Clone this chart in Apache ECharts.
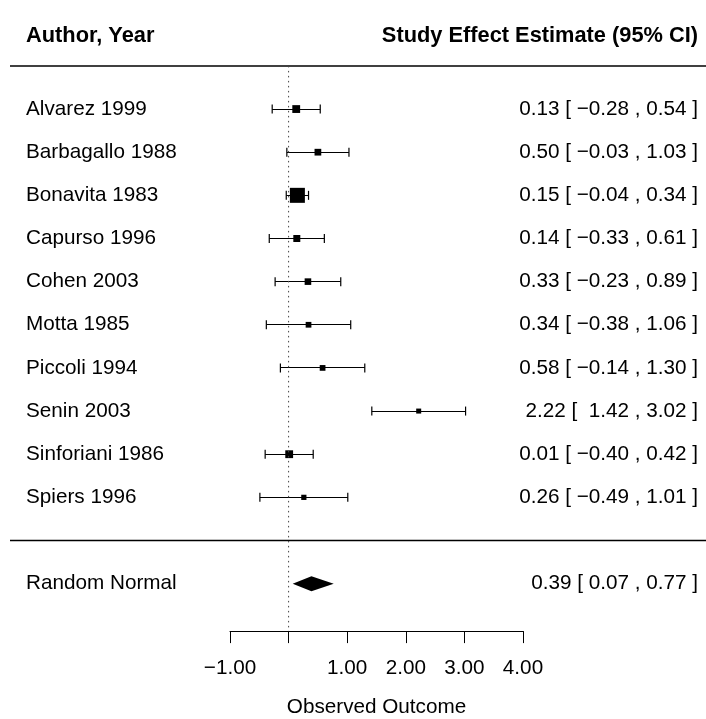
<!DOCTYPE html>
<html>
<head>
<meta charset="utf-8">
<script src="https://cdn.jsdelivr.net/npm/echarts@6/dist/echarts.min.js"></script>
<style>
  html, body { margin: 0; padding: 0; background: #fff; }
  #main { width: 706px; height: 719px; }
</style>
</head>
<body>
<div id="main"></div>
<script>
// Individual studies (top to bottom)
const studies = [
  'Alvarez 1999', 'Barbagallo 1988', 'Bonavita 1983', 'Capurso 1996', 'Cohen 2003',
  'Motta 1985', 'Piccoli 1994', 'Senin 2003', 'Sinforiani 1986', 'Spiers 1996'
];
const estimates = [0.13, 0.50, 0.15, 0.14, 0.33, 0.34, 0.58, 2.22, 0.01, 0.26];
const ciLower   = [-0.28, -0.03, -0.04, -0.33, -0.23, -0.38, -0.14, 1.42, -0.40, -0.49];
const ciUpper   = [0.54, 1.03, 0.34, 0.61, 0.89, 1.06, 1.30, 3.02, 0.42, 1.01];
// Relative study weights (%), used to scale the square markers
const weights   = [12.2, 8.9, 33.8, 9.7, 8.5, 5.9, 5.9, 3.7, 12.2, 4.4];

// Pooled (random-effects) summary
const pooledLabel = 'Random Normal';
const pooledEstimate = 0.39;
const pooledLower = 0.07;
const pooledUpper = 0.77;

// Axis ticks
const xTicks = [-1, 0, 1, 2, 3, 4];
const xTickLabels = ['\u22121.00', '', '1.00', '2.00', '3.00', '4.00'];

const headerLeft = 'Author, Year';
const headerRight = 'Study Effect Estimate (95% CI)';
const axisTitle = 'Observed Outcome';

// ---- layout helpers ----
const FONT = "'Liberation Sans', Arial, Helvetica, sans-serif";
const FS = 20.7;
const HEADER_FS = 21.8;
const k = studies.length;
const rows = studies.map((_, i) => k - i);   // first study on top
const pooledRow = -1;
const LEFT_TEXT_X = 26;
const RIGHT_TEXT_X = 698;

function fmtNum(v) {
  return (v < 0 ? '\u2212' : '') + Math.abs(v).toFixed(2);
}
function padCol(values) {
  const s = values.map(fmtNum);
  const w = Math.max(...s.map(t => t.length));
  return s.map(t => ' '.repeat(w - t.length) + t);
}
const estCol = padCol(estimates), loCol = padCol(ciLower), hiCol = padCol(ciUpper);
const annotations = studies.map((_, i) => `${estCol[i]} [ ${loCol[i]} , ${hiCol[i]} ]`);
const pooledAnnotation = `${fmtNum(pooledEstimate)} [ ${fmtNum(pooledLower)} , ${fmtNum(pooledUpper)} ]`;

const wMin = Math.min(...weights), wMax = Math.max(...weights);
function squareSize(w) { return 5 + 10 * (w - wMin) / (wMax - wMin); }
// keep thin horizontal strokes on whole pixels so they render crisp
function crisp(v) { return Math.round(v - 0.5) + 0.5; }

const studyData = studies.map((name, i) => [estimates[i], ciLower[i], ciUpper[i], rows[i], weights[i], i]);

const chart = echarts.init(document.getElementById('main'), null, { renderer: 'canvas' });

const option = {
  animation: false,
  backgroundColor: '#fff',
  grid: { left: 230, right: 183, top: 22.76, bottom: 87.9, containLabel: false, outerBoundsMode: 'none' },
  xAxis: {
    type: 'value', min: -1, max: 4, interval: 1,
    axisLine: { show: true, onZero: false, lineStyle: { color: '#000', width: 1 } },
    axisTick: { show: true, inside: false, length: 12, lineStyle: { color: '#000', width: 1 } },
    splitLine: { show: false },
    axisLabel: {
      margin: 27, color: '#000', fontFamily: FONT, fontSize: FS,
      formatter: v => { const i = xTicks.indexOf(Math.round(v)); return i >= 0 ? xTickLabels[i] : ''; }
    },
    name: axisTitle, nameLocation: 'middle', nameGap: 66,
    nameTextStyle: { color: '#000', fontFamily: FONT, fontSize: FS }
  },
  yAxis: {
    type: 'value', min: -2.1, max: 12, show: false
  },
  graphic: [
    { type: 'text', left: LEFT_TEXT_X, top: 25,
      style: { text: headerLeft, font: `bold ${HEADER_FS}px ${FONT}`, fill: '#000' } },
    { type: 'text', right: 706 - RIGHT_TEXT_X, top: 25,
      style: { text: headerRight, font: `bold ${HEADER_FS}px ${FONT}`, fill: '#000' } }
  ],
  series: [
    // separator lines below the header and above the summary
    {
      type: 'custom', silent: true, clip: false,
      data: [[0, k + 1], [0, 0]],
      renderItem: (params, api) => {
        const y = api.coord([0, api.value(1)])[1];
        return { type: 'line', shape: { x1: 10, y1: y, x2: 706, y2: y },
                 style: { stroke: '#000', lineWidth: 1.5 } };
      }
    },
    // reference line at zero
    {
      type: 'line', silent: true, symbol: 'none',
      data: [[0, k + 1], [0, -2.1]],
      lineStyle: { color: '#444', width: 1, type: [1.5, 3.5] }
    },
    // confidence intervals and weighted squares
    {
      type: 'custom', silent: true, clip: false,
      data: studyData,
      renderItem: (params, api) => {
        const est = api.value(0), lo = api.value(1), hi = api.value(2), row = api.value(3), w = api.value(4);
        const pLo = api.coord([lo, row]), pHi = api.coord([hi, row]), pE = api.coord([est, row]);
        const y = pE[1];
        const yl = crisp(y);
        const s = squareSize(w);
        const cap = 4.5;
        return {
          type: 'group',
          children: [
            { type: 'line', shape: { x1: pLo[0], y1: yl, x2: pHi[0], y2: yl }, style: { stroke: '#000', lineWidth: 1 } },
            { type: 'line', shape: { x1: pLo[0], y1: y - cap, x2: pLo[0], y2: y + cap }, style: { stroke: '#000', lineWidth: 1.2 } },
            { type: 'line', shape: { x1: pHi[0], y1: y - cap, x2: pHi[0], y2: y + cap }, style: { stroke: '#000', lineWidth: 1.2 } },
            { type: 'rect', shape: { x: pE[0] - s / 2, y: y - s / 2, width: s, height: s }, style: { fill: '#000' } }
          ]
        };
      }
    },
    // study labels and annotations
    {
      type: 'custom', silent: true, clip: false,
      data: studyData,
      renderItem: (params, api) => {
        const i = api.value(5);
        const y = api.coord([0, api.value(3)])[1];
        return {
          type: 'group',
          children: [
            { type: 'text', x: LEFT_TEXT_X, y: y,
              style: { text: studies[i], font: `${FS}px ${FONT}`, fill: '#000', textAlign: 'left', textVerticalAlign: 'middle' } },
            { type: 'text', x: RIGHT_TEXT_X, y: y,
              style: { text: annotations[i], font: `${FS}px ${FONT}`, fill: '#000', textAlign: 'right', textVerticalAlign: 'middle' } }
          ]
        };
      }
    },
    // pooled summary diamond with label
    {
      type: 'custom', silent: true, clip: false,
      data: [[pooledEstimate, pooledLower, pooledUpper, pooledRow]],
      renderItem: (params, api) => {
        const row = api.value(3);
        const pE = api.coord([api.value(0), row]);
        const pLo = api.coord([api.value(1), row]);
        const pHi = api.coord([api.value(2), row]);
        const y = pE[1], h = 7.5;
        return {
          type: 'group',
          children: [
            { type: 'polygon', shape: { points: [[pLo[0], y], [pE[0], y - h], [pHi[0], y], [pE[0], y + h]] },
              style: { fill: '#000' } },
            { type: 'text', x: LEFT_TEXT_X, y: y,
              style: { text: pooledLabel, font: `${FS}px ${FONT}`, fill: '#000', textAlign: 'left', textVerticalAlign: 'middle' } },
            { type: 'text', x: RIGHT_TEXT_X, y: y,
              style: { text: pooledAnnotation, font: `${FS}px ${FONT}`, fill: '#000', textAlign: 'right', textVerticalAlign: 'middle' } }
          ]
        };
      }
    }
  ]
};

chart.setOption(option);
</script>
</body>
</html>
